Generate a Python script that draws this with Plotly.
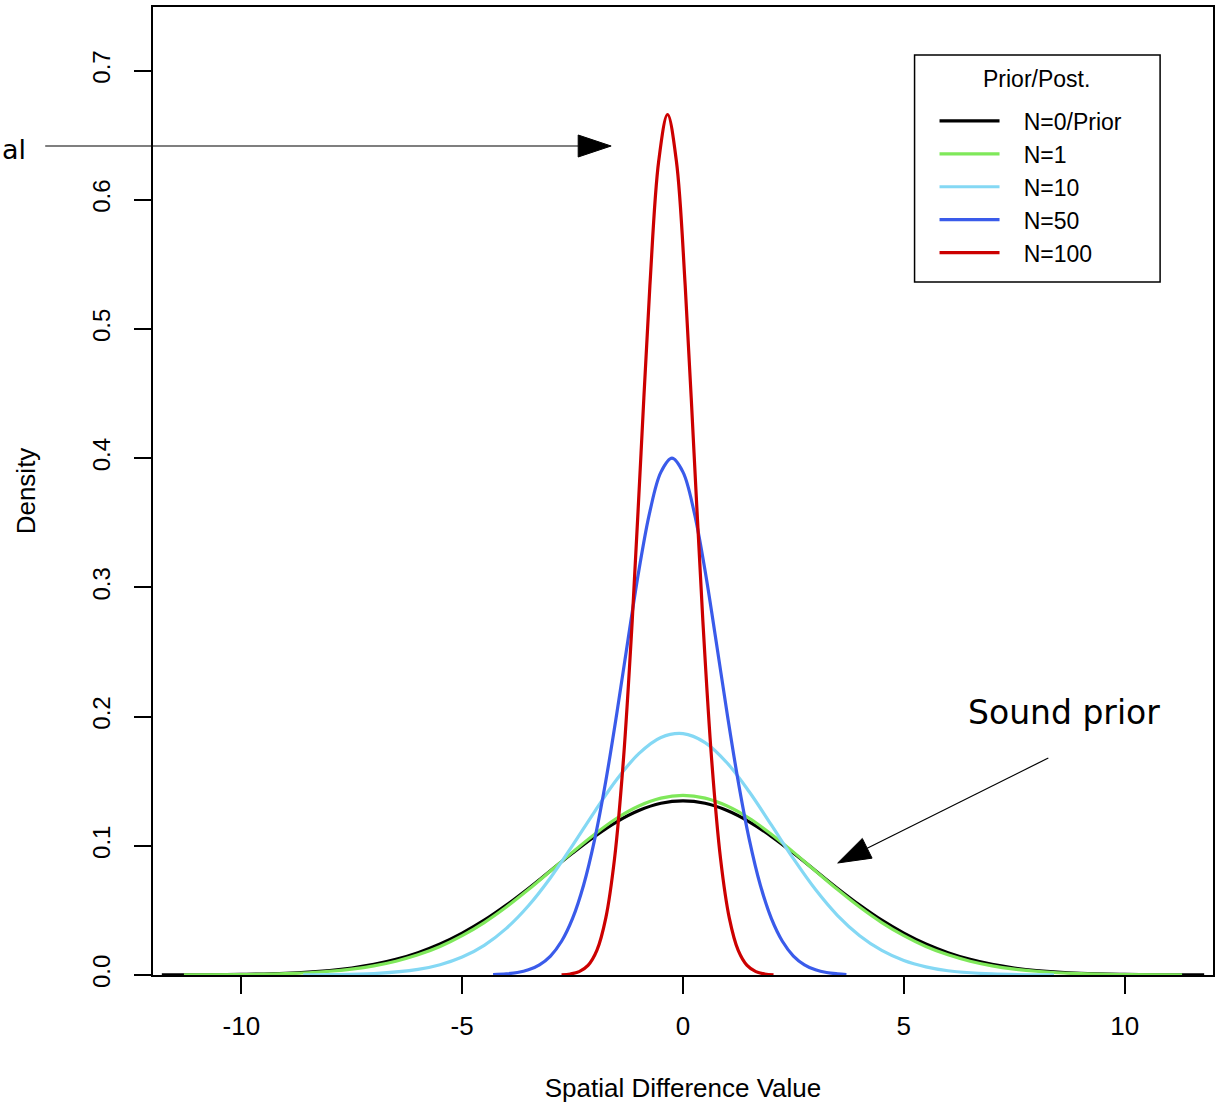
import math
import plotly.graph_objects as go

# ---------------- data ----------------
x_prior = [-11.8, -11.0, -10.0, -9.0, -8.0, -7.5, -7.0, -6.5, -6.0, -5.5, -5.0, -4.5, -4.0, -3.5,
           -3.0, -2.5, -2.0, -1.5, -1.0, -0.5, 0.0, 0.5, 1.0, 1.5, 2.0, 2.5, 3.0, 3.5, 4.0, 4.5,
           5.0, 5.5, 6.0, 6.5, 7.0, 7.5, 8.0, 9.0, 10.0, 11.0, 11.8]
y_prior = [0.00005, 0.00014, 0.00045, 0.0013, 0.0035, 0.0054, 0.0082, 0.0121, 0.0173, 0.0240,
           0.0324, 0.0424, 0.0541, 0.0670, 0.0807, 0.0944, 0.1073, 0.1186, 0.1273, 0.1329,
           0.1348,
           0.1329, 0.1273, 0.1186, 0.1073, 0.0944, 0.0807, 0.0670, 0.0541, 0.0424, 0.0324,
           0.0240, 0.0173, 0.0121, 0.0082, 0.0054, 0.0035, 0.0013, 0.00045, 0.00014, 0.00005]

x_n1 = [-11.3, -10.0, -9.0, -8.0, -7.5, -7.0, -6.5, -6.0, -5.5, -5.0, -4.5, -4.0, -3.5, -3.0,
        -2.5, -2.0, -1.5, -1.0, -0.5, 0.0, 0.5, 1.0, 1.5, 2.0, 2.5, 3.0, 3.5, 4.0, 4.5, 5.0,
        5.5, 6.0, 6.5, 7.0, 7.5, 8.0, 9.0, 10.0, 11.3]
y_n1 = [0.00006, 0.00032, 0.0010, 0.0029, 0.0046, 0.0071, 0.0107, 0.0156, 0.0221, 0.0305,
        0.0406, 0.0526, 0.0661, 0.0805, 0.0951, 0.1090, 0.1213, 0.1308, 0.1369,
        0.1390,
        0.1369, 0.1308, 0.1213, 0.1090, 0.0951, 0.0805, 0.0661, 0.0526, 0.0406, 0.0305,
        0.0221, 0.0156, 0.0107, 0.0071, 0.0046, 0.0029, 0.0010, 0.00032, 0.00006]

x_n10 = [-8.6, -8.0, -7.0, -6.0, -5.5, -5.0, -4.5, -4.0, -3.5, -3.0, -2.5, -2.0, -1.5, -1.0,
         -0.5, 0.0, 0.5, 1.0, 1.5, 2.0, 2.5, 3.0, 3.5, 4.0, 4.5, 5.0, 5.5, 6.0, 7.0, 8.0, 8.4]
y_n10 = [0.00008, 0.00022, 0.00108, 0.00433, 0.00798, 0.0139, 0.0230, 0.0361, 0.0536, 0.0753,
         0.1003, 0.1265, 0.1513, 0.1713, 0.1838, 0.1868, 0.1799, 0.1641, 0.1418, 0.1161,
         0.0900, 0.0661, 0.0460, 0.0304, 0.0190, 0.0112, 0.0063, 0.0033, 0.0008, 0.00015,
         0.00008]

x_n50 = [-4.3, -4.0, -3.75, -3.5, -3.25, -3.0, -2.75, -2.5, -2.25, -2.0, -1.75, -1.5, -1.25,
         -1.0, -0.75, -0.5, -0.25, 0.0, 0.25, 0.5, 0.75, 1.0, 1.25, 1.5, 1.75, 2.0, 2.25, 2.5,
         2.75, 3.0, 3.25, 3.5, 3.7]
y_n50 = [0.0003, 0.0009, 0.0019, 0.0040, 0.0079, 0.0147, 0.0261, 0.0438, 0.0697, 0.1050,
         0.1498, 0.2022, 0.2584, 0.3129, 0.3587, 0.3892, 0.4000, 0.3892, 0.3587, 0.3129,
         0.2584, 0.2022, 0.1498, 0.1050, 0.0697, 0.0438, 0.0261, 0.0147, 0.0079, 0.0040,
         0.0019, 0.0009, 0.0004]

x_n100 = [-2.75, -2.55, -2.35, -2.15, -1.95, -1.75, -1.55, -1.35, -1.15, -0.95, -0.75, -0.55,
          -0.35, -0.15, 0.05, 0.25, 0.45, 0.65, 0.85, 1.05, 1.25, 1.45, 1.65, 1.85, 2.05]
y_n100 = [0.0002, 0.0008, 0.0026, 0.0074, 0.0190, 0.0438, 0.0901, 0.1661, 0.2738, 0.4040,
          0.5333, 0.6300, 0.6660, 0.6300, 0.5333, 0.4040, 0.2738, 0.1661, 0.0901, 0.0438,
          0.0190, 0.0074, 0.0026, 0.0008, 0.0002]

series_names = ["N=0/Prior", "N=1", "N=10", "N=50", "N=100"]
series_colors = ["#000000", "#7FE85A", "#84D8F4", "#3A5BEA", "#CC0000"]

x_tickvals = [-10, -5, 0, 5, 10]
x_ticktext = ["-10", "-5", "0", "5", "10"]
y_tickvals = [0.0, 0.1, 0.2, 0.3, 0.4, 0.5, 0.6, 0.7]
y_ticktext = ["0.0", "0.1", "0.2", "0.3", "0.4", "0.5", "0.6", "0.7"]

x_title = "Spatial Difference Value"
y_title = "Density"
legend_title = "Prior/Post."
note_sound = "Sound prior"
note_left = "al"

# ---------------- figure ----------------
W, H = 1218, 1103
ML, MR, MT, MB = 153, 3, 7, 128
PW, PH = W - ML - MR, H - MT - MB

FONT = "Liberation Sans, Arial, sans-serif"
HAND = "DejaVu Sans, sans-serif"
NBSP = "\u00a0"

fig = go.Figure()
for xs, ys, name, col in zip([x_prior, x_n1, x_n10, x_n50, x_n100],
                             [y_prior, y_n1, y_n10, y_n50, y_n100],
                             series_names, series_colors):
    fig.add_trace(go.Scatter(x=xs, y=ys, mode="lines", name=NBSP * 3 + name,
                             line=dict(color=col, width=3.2, shape="spline", smoothing=1.0)))


def pp(px, py):
    """pixel position on the page -> paper coordinates"""
    return (px - ML) / PW, (H - MB - py) / PH


def arrow(tail, tip, head_len=33, head_w=22):
    dx, dy = tip[0] - tail[0], tip[1] - tail[1]
    L = math.hypot(dx, dy)
    ux, uy = dx / L, dy / L
    bx, by = tip[0] - ux * head_len, tip[1] - uy * head_len
    nx, ny = -uy * head_w / 2, ux * head_w / 2
    x0, y0 = pp(*tail)
    x1, y1 = pp(bx, by)
    out = [dict(type="line", xref="paper", yref="paper", x0=x0, y0=y0, x1=x1, y1=y1,
                line=dict(color="black", width=1.2))]
    a = pp(*tip)
    b = pp(bx + nx, by + ny)
    c = pp(bx - nx, by - ny)
    out.append(dict(type="path", xref="paper", yref="paper",
                    path=f"M{a[0]},{a[1]} L{b[0]},{b[1]} L{c[0]},{c[1]} Z",
                    fillcolor="black", line=dict(color="black", width=1)))
    return out


shapes = arrow((45, 146), (612, 146)) + arrow((1050, 758), (839, 863))
# legend frame
lx0, ly0 = pp(916, 55)
lx1, ly1 = pp(1162, 282)
shapes.append(dict(type="rect", xref="paper", yref="paper", x0=lx0, y0=ly1, x1=lx1, y1=ly0,
                   fillcolor="white", line=dict(color="black", width=1.5), layer="above"))

ann = []
sx, sy = pp(1066, 712)
ann.append(dict(text=note_sound, xref="paper", yref="paper", x=sx, y=sy,
                xanchor="center", yanchor="middle", showarrow=False,
                font=dict(family=HAND, size=33, color="black")))
ax_, ay_ = pp(28, 149)
ann.append(dict(text=note_left, xref="paper", yref="paper", x=ax_, y=ay_,
                xanchor="right", yanchor="middle", showarrow=False,
                font=dict(family=HAND, size=27, color="black")))
tx, ty = pp(1038, 79)
ann.append(dict(text=legend_title, xref="paper", yref="paper", x=tx, y=ty,
                xanchor="center", yanchor="middle", showarrow=False,
                font=dict(family=FONT, size=23, color="black")))

legx, legy = pp(936, 99.5)

fig.update_layout(
    width=W, height=H,
    margin=dict(l=ML, r=MR, t=MT, b=MB, pad=0),
    paper_bgcolor="white", plot_bgcolor="white",
    font=dict(family=FONT, color="black", size=23),
    shapes=shapes, annotations=ann,
    showlegend=True,
    legend=dict(
        x=legx, y=legy, xanchor="left", yanchor="top",
        bgcolor="rgba(0,0,0,0)", borderwidth=0,
        font=dict(family=FONT, size=23, color="black"),
        itemwidth=60, tracegroupgap=0,
    ),
    xaxis=dict(range=[-12, 12], showgrid=False, zeroline=False,
               showline=True, mirror=True, linecolor="black", linewidth=1.5,
               ticks="outside", ticklen=17, tickwidth=1.5, tickcolor="black",
               tickvals=x_tickvals, ticktext=x_ticktext,
               tickfont=dict(family=FONT, size=26), ticklabelstandoff=10,
               title=dict(text=x_title, font=dict(family=FONT, size=26), standoff=40)),
    yaxis=dict(range=[0, 0.7492], showgrid=False, zeroline=False,
               showline=True, mirror=True, linecolor="black", linewidth=1.5,
               ticks="outside", ticklen=17, tickwidth=1.5, tickcolor="black",
               tickvals=y_tickvals, ticktext=y_ticktext, tickangle=-90,
               tickfont=dict(family=FONT, size=24), ticklabelstandoff=15,
               title=dict(text=y_title, font=dict(family=FONT, size=26), standoff=45)),
)

fig.write_html("out.html", config={"displayModeBar": False},
               post_script="document.body.style.margin='0';")
